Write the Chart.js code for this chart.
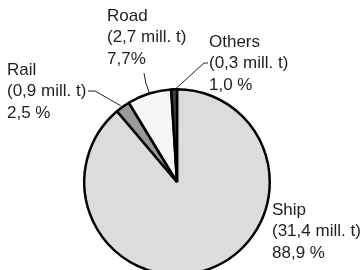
<!DOCTYPE html>
<html>
<head>
<meta charset="utf-8">
<script src="https://cdn.jsdelivr.net/npm/chart.js@4/dist/chart.umd.min.js"></script>
<style>
  html, body { margin: 0; padding: 0; background: #fff; overflow: hidden; }
  #wrap { width: 363px; height: 280px; position: relative; }
</style>
</head>
<body>
<div id="wrap"><canvas id="c" width="363" height="280"></canvas></div>
<script>
const categories = ["Ship", "Rail", "Road", "Others"];
const tonnes = ["31,4", "0,9", "2,7", "0,3"];
const shares = [88.9, 2.5, 7.7, 1.0];
const shareLabels = ["88,9 %", "2,5 %", "7,7%", "1,0 %"];
const colors = ["#dcdcdc", "#9a9a9a", "#f6f6f6", "#404040"];

// label text block positions (layout only)
const labelPos = [
  { x: 272, y: 210 },  // Ship
  { x: 7, y: 70 },     // Rail
  { x: 107, y: 16 },   // Road
  { x: 209, y: 42 }    // Others
];

const labelPlugin = {
  id: 'labels',
  afterDatasetsDraw(chart) {
    const ctx = chart.ctx;
    const meta = chart.getDatasetMeta(0);
    const lh = 21.7;
    ctx.save();
    ctx.font = '17px "Liberation Sans", Arial, sans-serif';
    ctx.fillStyle = '#1e1e1e';
    ctx.textBaseline = 'middle';
    ctx.textAlign = 'left';
    categories.forEach((c, i) => {
      const p = labelPos[i];
      ctx.fillText(c, p.x, p.y);
      ctx.fillText('(' + tonnes[i] + ' mill. t)', p.x, p.y + lh);
      ctx.fillText(shareLabels[i], p.x, p.y + 2 * lh);
    });
    // leader lines to arcs
    ctx.strokeStyle = '#222';
    ctx.lineWidth = 1;
    const edge = (i, frac) => {
      const a = meta.data[i];
      const ang = a.startAngle + (a.endAngle - a.startAngle) * frac;
      return { x: a.x + Math.cos(ang) * a.outerRadius, y: a.y + Math.sin(ang) * a.outerRadius };
    };
    // Rail
    let e = edge(1, 0.5);
    ctx.beginPath();
    ctx.moveTo(88, 91); ctx.lineTo(95, 91); ctx.lineTo(e.x - 2, e.y - 1);
    ctx.stroke();
    // Road
    e = edge(2, 0.5);
    ctx.beginPath();
    ctx.moveTo(144, 73); ctx.quadraticCurveTo(145, 83, e.x, e.y - 1);
    ctx.stroke();
    // Others
    e = edge(3, 0.5);
    ctx.beginPath();
    ctx.moveTo(208, 63); ctx.lineTo(204, 63); ctx.lineTo(e.x + 1, e.y);
    ctx.stroke();
    ctx.restore();
  }
};

new Chart(document.getElementById('c'), {
  type: 'pie',
  data: {
    labels: categories,
    datasets: [{
      data: shares,
      backgroundColor: colors,
      borderColor: '#000',
      borderWidth: 2.5
    }]
  },
  options: {
    responsive: false,
    animation: false,
    rotation: 0,
    layout: { padding: { left: 83, right: 92, top: 88, bottom: 4 } },
    plugins: { legend: { display: false }, tooltip: { enabled: false } }
  },
  plugins: [labelPlugin]
});
</script>
</body>
</html>
